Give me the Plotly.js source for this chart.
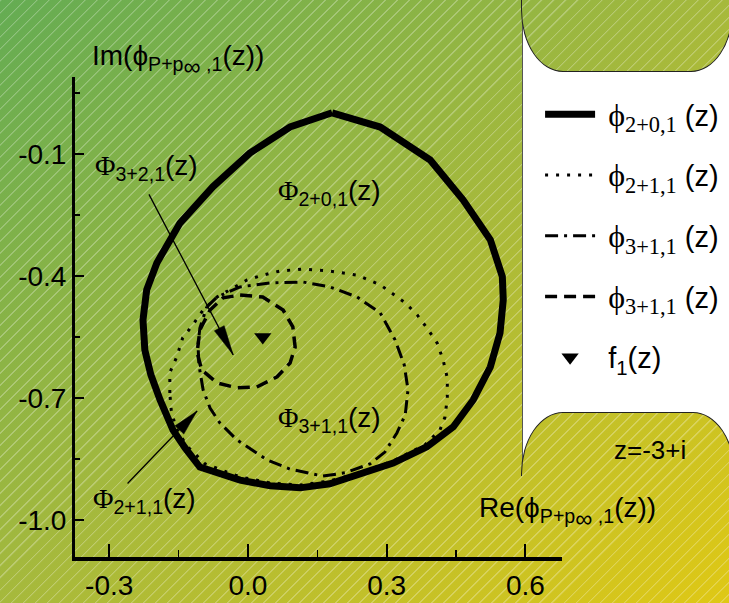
<!DOCTYPE html>
<html><head><meta charset="utf-8">
<script src="https://cdn.plot.ly/plotly-3.0.1.min.js"></script>
<style>
html,body{margin:0;padding:0;width:729px;height:603px;overflow:hidden;}
body{position:relative;}
.bg{background-image:repeating-linear-gradient(135deg, rgba(255,255,255,0.26) 0px, rgba(255,255,255,0.26) 1px, rgba(255,255,255,0) 1.6px, rgba(255,255,255,0) 8.5px), linear-gradient(to bottom right, #64ac53, #a6b93c 50%, #dfc815);background-size:729px 603px,729px 603px;background-repeat:no-repeat;}
#page{position:absolute;left:0;top:0;width:729px;height:603px;background-position:0 0;}
#panel{position:absolute;left:522px;top:0;width:207px;height:475px;background:#fff;border-left:1px solid #555;}
#blobTop{position:absolute;left:521px;top:-90px;width:210px;height:160px;border:1px solid #222;border-radius:0 0 42px 42px / 0 0 62px 62px;background-position:-522px 89px;}
#blobBot{position:absolute;left:521px;top:412px;width:212px;height:260px;border:1px solid #222;border-radius:42px 42px 0 0 / 62px 62px 0 0;background-position:-522px -413px;}
#cover{position:absolute;left:515px;top:476px;width:14px;height:130px;background-position:-515px -476px;}
#chart{position:absolute;left:0;top:0;width:729px;height:603px;}
</style>
</head><body>
<div id="page" class="bg"></div>
<div id="panel"></div>
<div id="blobTop" class="bg"></div>
<div id="blobBot" class="bg"></div>
<div id="cover" class="bg"></div>
<div id="chart"></div>
<script>
// Phi_{2+0,1}(z)  (solid)
const solidX = [0.182,0.286,0.394,0.465,0.524,0.550,0.552,0.545,0.524,0.487,0.444,0.387,0.314,0.242,0.177,0.113,0.048,-0.017,-0.104,-0.136,-0.162,-0.190,-0.210,-0.223,-0.227,-0.219,-0.197,-0.147,-0.076,0.004,0.091,0.182];
const solidY = [0.001,-0.034,-0.115,-0.213,-0.311,-0.402,-0.459,-0.540,-0.624,-0.705,-0.771,-0.820,-0.860,-0.889,-0.911,-0.921,-0.916,-0.902,-0.870,-0.823,-0.779,-0.705,-0.643,-0.582,-0.508,-0.434,-0.368,-0.270,-0.181,-0.098,-0.034,0.001];
// Phi_{2+1,1}(z)  (dotted)
const dotX = [-0.169,-0.169,-0.154,-0.141,-0.119,-0.097,-0.067,-0.039,-0.002,0.032,0.069,0.119,0.177,0.236,0.286,0.340,0.366,0.387,0.409,0.422,0.431,0.431,0.426,0.415,0.383,0.314,0.242,0.177,0.113,0.048,-0.017,-0.093,-0.132,-0.156,-0.166,-0.169];
const dotY = [-0.688,-0.638,-0.599,-0.552,-0.520,-0.484,-0.452,-0.434,-0.410,-0.398,-0.388,-0.383,-0.388,-0.398,-0.422,-0.466,-0.496,-0.528,-0.565,-0.607,-0.651,-0.700,-0.747,-0.779,-0.815,-0.855,-0.884,-0.904,-0.914,-0.909,-0.894,-0.862,-0.818,-0.774,-0.729,-0.688];
// Phi_{3+1,1}(z)  (dash-dot)
const ddX = [-0.089,-0.067,-0.017,0.048,0.119,0.177,0.236,0.286,0.318,0.338,0.346,0.340,0.322,0.296,0.264,0.210,0.162,0.091,0.041,-0.024,-0.061,-0.082,-0.097,-0.106,-0.108,-0.104,-0.089];
const ddY = [-0.476,-0.452,-0.427,-0.417,-0.415,-0.427,-0.452,-0.491,-0.557,-0.619,-0.680,-0.742,-0.786,-0.833,-0.862,-0.884,-0.892,-0.875,-0.852,-0.803,-0.761,-0.725,-0.680,-0.619,-0.570,-0.528,-0.476];
// Phi_{3+2,1}(z)  (dashed)
const dashX = [-0.017,0.032,0.076,0.097,0.102,0.091,0.063,0.019,-0.024,-0.067,-0.100,-0.110,-0.104,-0.082,-0.054,-0.017];
const dashY = [-0.447,-0.452,-0.484,-0.525,-0.575,-0.614,-0.648,-0.673,-0.675,-0.663,-0.631,-0.589,-0.533,-0.484,-0.454,-0.447];
// f_1(z)
const fX = [0.032];
const fY = [-0.550];

const xTicks = [-0.3, 0.0, 0.3, 0.6];
const xTickText = ['-0.3', '0.0', '0.3', '0.6'];
const yTicks = [-0.1, -0.4, -0.7, -1.0];
const yTickText = ['-0.1', '-0.4', '-0.7', '-1.0'];

// arrow tips (data) for the two label arrows
const arrowTipX = [-0.032, -0.110];
const arrowTipY = [-0.594, -0.732];

const SANS = "'Liberation Sans Narrow', 'Arial Narrow', 'Liberation Sans', sans-serif";
const SERIF = "Liberation Serif";
const NB = "\u00a0";
const phiL = (s) => NB + "<span style='font-family:" + SERIF + ";font-size:32px'>ϕ<sub>" + s + "</sub></span> (z)";
const PhiA = (s) => "<span style='font-family:" + SERIF + "'>Φ</span><sub>" + s + "</sub>(z)";
const phiAxis = "ϕ<sub>P+p<sub><span style='font-size:24px'>∞</span></sub> ,1</sub>";

const traces = [
  {x: solidX, y: solidY, mode: 'lines', name: phiL('2+0,1'), legendgroup: 'a',
   line: {color: '#000', width: 7}},
  {x: dotX, y: dotY, mode: 'lines', name: phiL('2+1,1'), legendgroup: 'b',
   line: {color: '#000', width: 3, dash: '3px,8px'}},
  {x: ddX, y: ddY, mode: 'lines', name: phiL('3+1,1'), legendgroup: 'c',
   line: {color: '#000', width: 3, dash: '13px,6px,3px,6px'}},
  {x: dashX, y: dashY, mode: 'lines', name: phiL('3+1,1'), legendgroup: 'd',
   line: {color: '#000', width: 3.5, dash: '12px,7px'}},
  {x: fX, y: fY, mode: 'markers', name: NB + 'f<sub>1</sub>(z)', legendgroup: 'e',
   marker: {symbol: 'triangle-down', size: 15, color: '#000'}}
];

const axisFont = {family: SANS, size: 28, color: '#000'};
const arrowHead = (i, path) => ({type: 'path', xref: 'x', yref: 'y', xsizemode: 'pixel', ysizemode: 'pixel',
  xanchor: arrowTipX[i], yanchor: arrowTipY[i], path: path, fillcolor: '#000', line: {width: 0.5, color: '#000'}});

const layout = {
  width: 729, height: 603,
  margin: {l: 75, r: 167, t: 77, b: 46, autoexpand: false},
  paper_bgcolor: 'rgba(0,0,0,0)',
  plot_bgcolor: 'rgba(0,0,0,0)',
  font: {family: SANS, size: 28, color: '#000'},
  showlegend: true,
  legend: {x: 0.955, y: 0.975, xanchor: 'left', yanchor: 'top', bgcolor: 'rgba(0,0,0,0)',
           font: {family: SANS, size: 29, color: '#000'}, tracegroupgap: 20, itemwidth: 50},
  xaxis: {range: [-0.374, 0.679], showgrid: false, zeroline: false, showline: true,
          linecolor: '#000', linewidth: 4, ticks: 'inside', ticklen: 13, tickwidth: 2, tickcolor: '#000',
          tickvals: xTicks, ticktext: xTickText, tickfont: axisFont,
          minor: {dtick: 0.15, tick0: 0, ticks: 'inside', ticklen: 7, tickwidth: 1.5, tickcolor: '#000'}},
  yaxis: {range: [-1.091, 0.089], showgrid: false, zeroline: false, showline: true,
          linecolor: '#000', linewidth: 3, ticks: 'inside', ticklen: 9, tickwidth: 2, tickcolor: '#000',
          tickvals: yTicks, ticktext: yTickText, tickfont: axisFont,
          minor: {dtick: 0.15, tick0: -0.1, ticks: 'inside', ticklen: 5, tickwidth: 1.5, tickcolor: '#000'}},
  shapes: [
    arrowHead(0, 'M0,0 L-9.0,29.2 L-18.8,24.0 Z'),
    arrowHead(1, 'M0,0 L-13.3,-23.1 L-22.1,-14.9 Z')
  ],
  annotations: [
    {x: 0.177, y: -0.196, xref: 'x', yref: 'y', text: PhiA('2+0,1'), showarrow: false, font: {size: 28}},
    {x: 0.177, y: -0.754, xref: 'x', yref: 'y', text: PhiA('3+1,1'), showarrow: false, font: {size: 28}},
    {x: -0.219, y: -0.134, xref: 'x', yref: 'y', text: PhiA('3+2,1'), showarrow: false, font: {size: 28}},
    {x: -0.223, y: -0.951, xref: 'x', yref: 'y', text: PhiA('2+1,1'), showarrow: false, font: {size: 28}},
    {x: arrowTipX[0], y: arrowTipY[0], xref: 'x', yref: 'y', text: '', showarrow: true, ax: -85, ay: -162,
     arrowhead: 0, arrowwidth: 1.3, arrowcolor: '#000'},
    {x: arrowTipX[1], y: arrowTipY[1], xref: 'x', yref: 'y', text: '', showarrow: true, ax: -71, ay: 74,
     arrowhead: 0, arrowwidth: 1.3, arrowcolor: '#000'},
    {x: 0.031, y: 1.035, xref: 'paper', yref: 'paper', xanchor: 'left', yanchor: 'middle', showarrow: false,
     text: 'Im(' + phiAxis + '(z))', font: {size: 28}},
    {x: 0.826, y: 0.094, xref: 'paper', yref: 'paper', xanchor: 'left', yanchor: 'middle', showarrow: false,
     text: 'Re(' + phiAxis + '(z))', font: {size: 28}},
    {x: 1.181, y: 0.223, xref: 'paper', yref: 'paper', xanchor: 'center', yanchor: 'middle', showarrow: false,
     text: 'z=-3+i', font: {size: 26}}
  ]
};

Plotly.newPlot('chart', traces, layout, {displayModeBar: false, staticPlot: true});
</script>
</body></html>
